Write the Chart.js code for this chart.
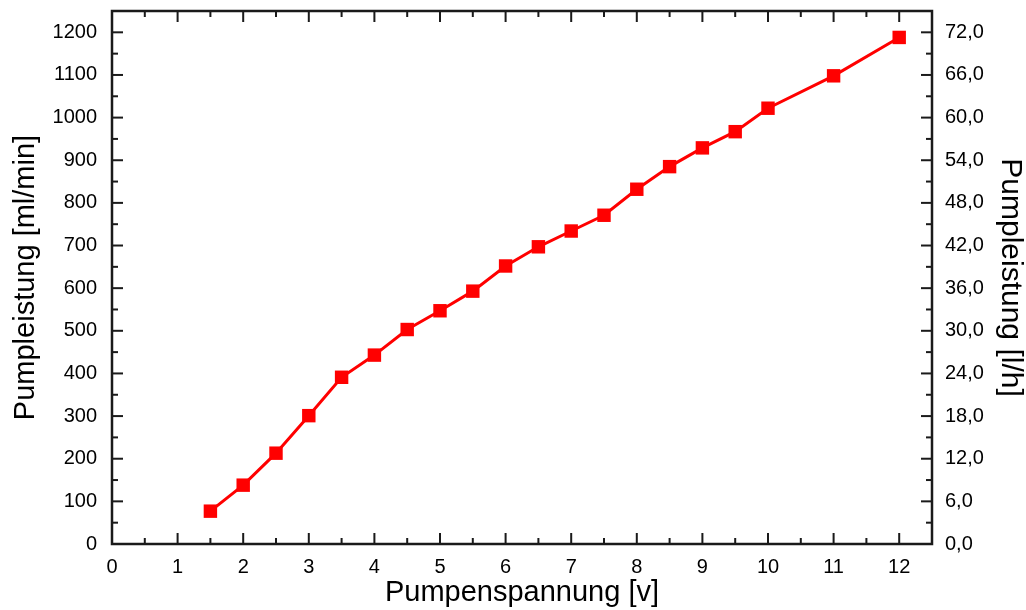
<!DOCTYPE html>
<html>
<head>
<meta charset="utf-8">
<script src="https://cdn.jsdelivr.net/npm/chart.js@4/dist/chart.umd.min.js"></script>
<style>
  html, body { margin: 0; padding: 0; background: #fff; }
  #wrap { width: 1026px; height: 610px; position: relative; }
</style>
</head>
<body>
<div id="wrap"><canvas id="pumpChart"></canvas></div>
<script>
// Pumpenspannung [v]
const voltage = [1.5, 2, 2.5, 3, 3.5, 4, 4.5, 5, 5.5, 6, 6.5, 7, 7.5, 8, 8.5, 9, 9.5, 10, 11, 12];
// Pumpleistung [ml/min]
const flowMlMin = [77, 138, 213, 301, 391, 443, 503, 547, 593, 652, 697, 734, 771, 832, 885, 929, 967, 1022, 1098, 1188];

const xTicks = [0, 1, 2, 3, 4, 5, 6, 7, 8, 9, 10, 11, 12];
const yLeftTicks = [0, 100, 200, 300, 400, 500, 600, 700, 800, 900, 1000, 1100, 1200];
const yRightTicks = [0, 6, 12, 18, 24, 30, 36, 42, 48, 54, 60, 66, 72];

const fontFamily = '"Liberation Sans", Arial, Helvetica, sans-serif';

// inward tick marks and frame around the plot, like the Origin original
const frameTicks = {
    id: 'frameTicks',
    beforeDatasetsDraw(chart) {
        const { ctx, chartArea: a, scales } = chart;
        const major = 11, minor = 6;
        ctx.save();
        ctx.strokeStyle = '#1a1a1a';
        ctx.lineWidth = 2;

        const x = scales.x;
        xTicks.forEach(function (v) {
            const px = x.getPixelForValue(v);
            ctx.beginPath();
            ctx.moveTo(px, a.bottom); ctx.lineTo(px, a.bottom - major);
            ctx.moveTo(px, a.top); ctx.lineTo(px, a.top + major);
            ctx.stroke();
            const m = x.getPixelForValue(v + 0.5);
            if (m < a.right - 1) {
                ctx.beginPath();
                ctx.moveTo(m, a.bottom); ctx.lineTo(m, a.bottom - minor);
                ctx.moveTo(m, a.top); ctx.lineTo(m, a.top + minor);
                ctx.stroke();
            }
        });

        const yl = scales.y;
        yLeftTicks.forEach(function (v) {
            const py = yl.getPixelForValue(v);
            ctx.beginPath();
            ctx.moveTo(a.left, py); ctx.lineTo(a.left + major, py);
            ctx.stroke();
            const m = yl.getPixelForValue(v + 50);
            if (m > a.top + 1) {
                ctx.beginPath();
                ctx.moveTo(a.left, m); ctx.lineTo(a.left + minor, m);
                ctx.stroke();
            }
        });

        const yr = scales.y2;
        yRightTicks.forEach(function (v) {
            const py = yr.getPixelForValue(v);
            ctx.beginPath();
            ctx.moveTo(a.right, py); ctx.lineTo(a.right - major, py);
            ctx.stroke();
            const m = yr.getPixelForValue(v + 3);
            if (m > a.top + 1) {
                ctx.beginPath();
                ctx.moveTo(a.right, m); ctx.lineTo(a.right - minor, m);
                ctx.stroke();
            }
        });

        ctx.lineWidth = 2.5;
        ctx.strokeRect(a.left, a.top, a.right - a.left, a.bottom - a.top);
        ctx.restore();
    }
};

// keep the plot box where the reference has it
function noEdgePadding(s) {
    s.paddingTop = 0; s.paddingBottom = 0;
    s.paddingLeft = 0; s.paddingRight = 0;
}

const ctx = document.getElementById('pumpChart');

new Chart(ctx, {
    type: 'line',
    data: {
        datasets: [{
            label: 'Pumpleistung',
            data: voltage.map(function (v, i) { return { x: v, y: flowMlMin[i] }; }),
            borderColor: '#ff0000',
            backgroundColor: '#ff0000',
            borderWidth: 3,
            pointStyle: 'rect',
            pointRadius: 9.5,
            pointBorderWidth: 0,
            pointBackgroundColor: '#ff0000',
            tension: 0,
            yAxisID: 'y'
        }]
    },
    options: {
        responsive: true,
        maintainAspectRatio: false,
        animation: false,
        layout: { padding: { top: 11, right: 0, bottom: 0, left: 0 } },
        plugins: {
            legend: { display: false },
            tooltip: { enabled: false }
        },
        scales: {
            x: {
                type: 'linear',
                min: 0,
                max: 12.5,
                grid: { display: false, drawTicks: false },
                border: { display: false },
                afterBuildTicks: function (s) { s.ticks = xTicks.map(function (v) { return { value: v }; }); },
                afterFit: function (s) { s.height = 66; noEdgePadding(s); },
                ticks: {
                    padding: 11,
                    color: '#000',
                    font: { family: fontFamily, size: 20 },
                    maxRotation: 0,
                    autoSkip: false,
                    callback: function (v) { return String(v); }
                },
                title: {
                    display: true,
                    text: 'Pumpenspannung [v]',
                    color: '#000',
                    font: { family: fontFamily, size: 29, lineHeight: 1 },
                    padding: { top: 0, bottom: 3 }
                }
            },
            y: {
                type: 'linear',
                position: 'left',
                min: 0,
                max: 1250,
                grid: { display: false, drawTicks: false },
                border: { display: false },
                afterBuildTicks: function (s) { s.ticks = yLeftTicks.map(function (v) { return { value: v }; }); },
                afterFit: function (s) { s.width = 112; noEdgePadding(s); },
                ticks: {
                    padding: 15,
                    color: '#000',
                    font: { family: fontFamily, size: 20 },
                    autoSkip: false,
                    callback: function (v) { return String(v); }
                },
                title: {
                    display: true,
                    text: 'Pumpleistung [ml/min]',
                    color: '#000',
                    font: { family: fontFamily, size: 29, lineHeight: 1 },
                    padding: { top: 11, bottom: 0 }
                }
            },
            y2: {
                type: 'linear',
                position: 'right',
                min: 0,
                max: 75,
                grid: { display: false, drawTicks: false },
                border: { display: false },
                afterBuildTicks: function (s) { s.ticks = yRightTicks.map(function (v) { return { value: v }; }); },
                afterFit: function (s) { s.width = 94; noEdgePadding(s); },
                ticks: {
                    padding: 13,
                    color: '#000',
                    font: { family: fontFamily, size: 20 },
                    autoSkip: false,
                    callback: function (v) { return v.toFixed(1).replace('.', ','); }
                },
                title: {
                    display: true,
                    text: 'Pumpleistung [l/h]',
                    color: '#000',
                    font: { family: fontFamily, size: 30, lineHeight: 1 },
                    padding: { top: 1, bottom: 0 }
                }
            }
        }
    },
    plugins: [frameTicks]
});
</script>
</body>
</html>
